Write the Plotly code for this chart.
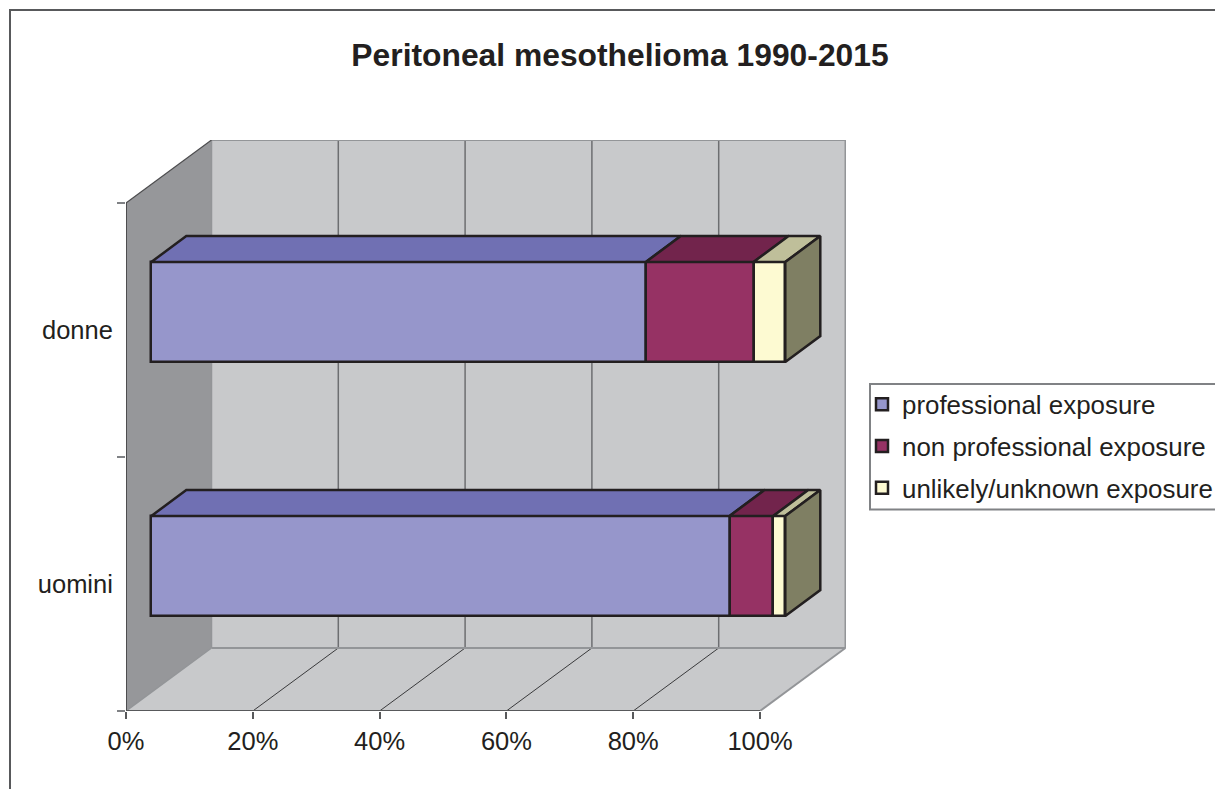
import plotly.graph_objects as go

categories = ["uomini", "donne"]
cat_pos = [0, 1]
series_names = ["professional exposure", "non professional exposure", "unlikely/unknown exposure"]
professional = [91.2, 78.0]
non_professional = [6.9, 17.0]
unlikely = [1.9, 5.0]
tick_vals = [0, 20, 40, 60, 80, 100]
tick_text = ["0%", "20%", "40%", "60%", "80%", "100%"]

W, H = 1215, 789
L, R, T, B = 126, 846, 140, 711
PX_X = 6.34
PX_Y = 254.0
px = lambda v: v / PX_X
py = lambda v: v / PX_Y
xmax = (R - L) / PX_X
ymin, ymax = -0.5, -0.5 + (B - T) / PX_Y
ytop_front = 1.5
DX_WALL, DY_WALL = px(85.5), py(63)
DX_OFF, DY_OFF = px(25.3), py(18)
DX_BAR, DY_BAR = px(35), py(26)
BAR_W = 100 / PX_Y

front = ["#9696CB", "#963264", "#FDFAD2"]
top = ["#7070B3", "#72244C", "#BFBF9A"]
side = "#7F7F63"
EDGE = "#231F20"
EDGE_W = 2.5
series = [professional, non_professional, unlikely]

fig = go.Figure()
for s, vals in enumerate(series):
    bases = [DX_OFF + sum(series[k][i] for k in range(s)) for i in range(2)]
    fig.add_trace(go.Bar(
        x=vals, y=[c + DY_OFF for c in cat_pos], base=bases, orientation="h", width=BAR_W,
        name=series_names[s], legendgroup=series_names[s],
        marker=dict(color=front[s], line=dict(color=EDGE, width=EDGE_W)), hoverinfo="skip"))

for i, c in enumerate(cat_pos):
    yc = c + DY_OFF
    yt, yb = yc + BAR_W / 2, yc - BAR_W / 2
    start = DX_OFF
    for s, vals in enumerate(series):
        end = start + vals[i]
        fig.add_trace(go.Scatter(
            x=[start, end, end + DX_BAR, start + DX_BAR, start],
            y=[yt, yt, yt + DY_BAR, yt + DY_BAR, yt],
            mode="lines", fill="toself", fillcolor=top[s], line=dict(color=EDGE, width=EDGE_W),
            showlegend=False, hoverinfo="skip"))
        start = end
    fig.add_trace(go.Scatter(
        x=[start, start + DX_BAR, start + DX_BAR, start, start],
        y=[yb, yb + DY_BAR, yt + DY_BAR, yt, yb],
        mode="lines", fill="toself", fillcolor=side, line=dict(color=EDGE, width=EDGE_W),
        showlegend=False, hoverinfo="skip"))


def poly(xs, ys, fill, lc=None, lw=0):
    path = "M" + " L".join(f"{a},{b}" for a, b in zip(xs, ys)) + " Z"
    return dict(type="path", path=path, xref="x", yref="y", fillcolor=fill, layer="below",
                line=dict(color=lc or fill, width=lw))


def seg(x0, y0, x1, y1, c, w):
    return dict(type="line", x0=x0, y0=y0, x1=x1, y1=y1, xref="x", yref="y", layer="below",
                line=dict(color=c, width=w))


shapes = [
    poly([DX_WALL, 100 + DX_WALL, 100 + DX_WALL, DX_WALL],
         [ymin + DY_WALL, ymin + DY_WALL, ytop_front + DY_WALL, ytop_front + DY_WALL], "#C8C9CB"),
    poly([0, 100, 100 + DX_WALL, DX_WALL], [ymin, ymin, ymin + DY_WALL, ymin + DY_WALL], "#C8C9CB"),
    poly([0, DX_WALL, DX_WALL, 0], [ymin, ymin + DY_WALL, ytop_front + DY_WALL, ytop_front], "#96979A"),
]
for v in tick_vals[1:-1]:
    shapes.append(seg(v + DX_WALL, ymin + DY_WALL, v + DX_WALL, ytop_front + DY_WALL, "#6D6E71", 1.5))
    shapes.append(seg(v, ymin, v + DX_WALL, ymin + DY_WALL, "#3A3A3C", 1))
EG = "#939598"
shapes += [
    seg(DX_WALL, ytop_front + DY_WALL, 100 + DX_WALL, ytop_front + DY_WALL, EG, 2),
    seg(100 + DX_WALL, ymin + DY_WALL, 100 + DX_WALL, ytop_front + DY_WALL, EG, 2),
    seg(DX_WALL, ymin + DY_WALL, 100 + DX_WALL, ymin + DY_WALL, EG, 2),
    seg(DX_WALL, ymin + DY_WALL, DX_WALL, ytop_front + DY_WALL, EG, 1.5),
    seg(0, ymin, DX_WALL, ymin + DY_WALL, EG, 1.5),
    seg(100, ymin, 100 + DX_WALL, ymin + DY_WALL, EG, 2),
    seg(0, ytop_front, DX_WALL, ytop_front + DY_WALL, "#4D4D4F", 1.2),
    seg(0, ymin, 0, ytop_front, "#4D4D4F", 2),
    seg(0, ymin, 100, ymin, "#58595B", 2),
    # chart frame and legend box
    dict(type="rect", xref="paper", yref="paper", layer="below",
         x0=(10 - L) / (R - L), x1=(1300 - L) / (R - L), y0=(B - 900) / (B - T), y1=(B - 10) / (B - T),
         line=dict(color="#58595B", width=2), fillcolor="rgba(0,0,0,0)"),
    dict(type="rect", xref="paper", yref="paper", layer="below",
         x0=(870 - L) / (R - L), x1=(1300 - L) / (R - L), y0=(B - 509.5) / (B - T), y1=(B - 384) / (B - T),
         line=dict(color="#808285", width=2), fillcolor="white"),
]

fig.update_layout(
    width=W, height=H, autosize=False, barmode="overlay", bargap=0,
    paper_bgcolor="white", plot_bgcolor="rgba(0,0,0,0)",
    margin=dict(l=L, r=W - R, t=T, b=H - B, pad=0, autoexpand=False),
    font=dict(family="Liberation Sans, Arial, sans-serif", color="#231F20", size=25.5),
    title=dict(text="<b>Peritoneal mesothelioma 1990-2015</b>", x=620 / W, xanchor="center",
               y=1 - 55 / H, yanchor="middle", font=dict(size=31.8, color="#231F20")),
    xaxis=dict(range=[0, xmax], tickmode="array", tickvals=tick_vals, ticktext=tick_text,
               showgrid=False, zeroline=False, showline=False, ticks="outside", ticklen=7,
               tickcolor="#58595B", tickwidth=1.5, tickfont=dict(size=25.5)),
    yaxis=dict(range=[ymin, ymax], tickmode="array", tickvals=cat_pos, ticktext=categories,
               showgrid=False, zeroline=False, showline=False, ticks="outside", ticklen=7,
               tickcolor="rgba(0,0,0,0)", tickfont=dict(size=25.5),
               minor=dict(tickmode="array", tickvals=[-0.5, 0.5, 1.5], ticks="outside", ticklen=8,
                          tickcolor="#808285", tickwidth=1.5, showgrid=False)),
    shapes=shapes,
    showlegend=True,
    legend=dict(x=(862 - L) / (R - L), xanchor="left", y=(B - 381) / (B - T), yanchor="top",
                bgcolor="rgba(0,0,0,0)", borderwidth=0, font=dict(size=25.9), tracegroupgap=5,
                traceorder="grouped"),
)

fig.write_html("out.html", config={"displayModeBar": False},
               post_script="document.body.style.margin='0';document.body.style.overflow='hidden';")
